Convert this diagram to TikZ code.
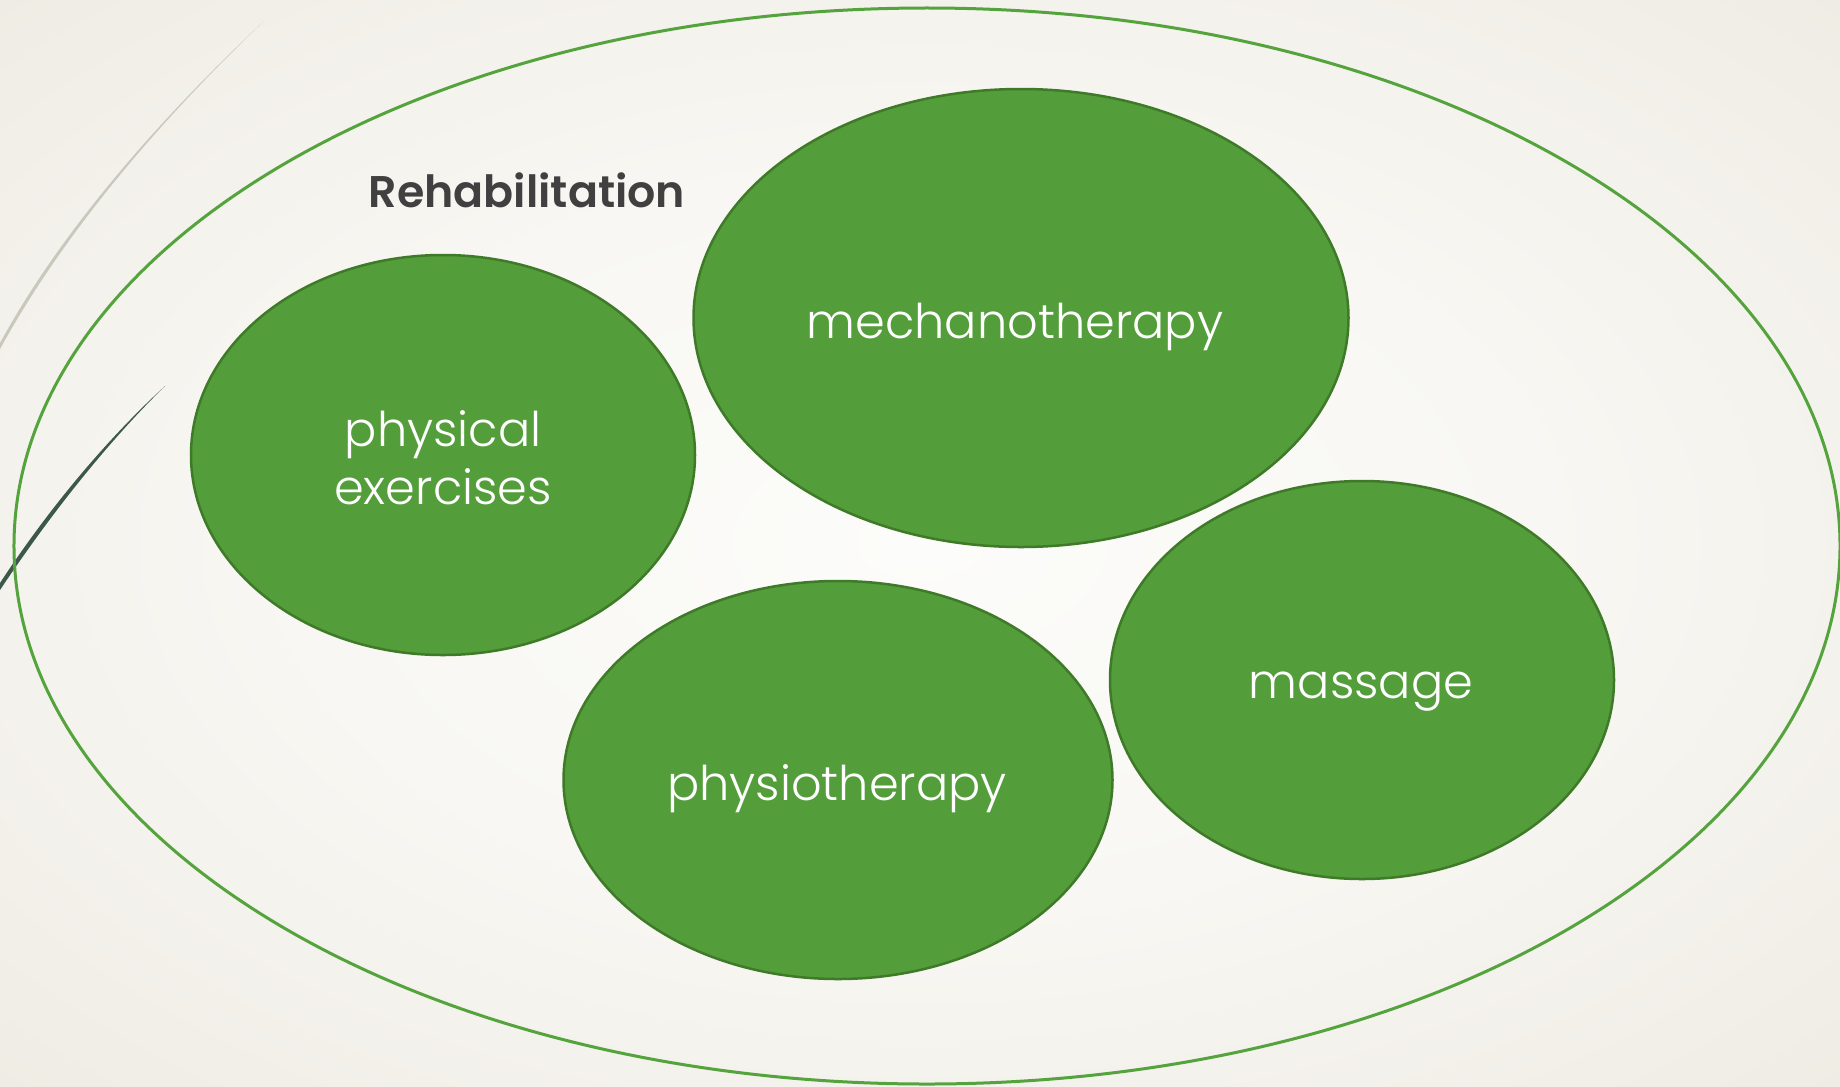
\documentclass[tikz,border=0pt]{standalone}
\usepackage{fontspec}
\setmainfont{Poppins}[UprightFont={* Light},BoldFont={* SemiBold}]
\usetikzlibrary{shapes.geometric}

\definecolor{leafgreen}{RGB}{83,158,58}
\definecolor{leafedge}{RGB}{62,122,40}
\definecolor{ringgreen}{RGB}{84,163,60}
\definecolor{titlegray}{RGB}{64,64,64}
\definecolor{bgin}{RGB}{252,252,250}
\definecolor{bgmidA}{RGB}{248,247,243}
\definecolor{bgmidB}{RGB}{236,232,223}
\definecolor{bgout}{RGB}{226,218,204}
\definecolor{strandgray}{RGB}{200,200,188}
\definecolor{stranddark}{RGB}{60,88,74}

% radial paper tone; TikZ maps 50bp onto the half-width of the shaded path
\pgfdeclareradialshading{paper}{\pgfpoint{0bp}{0bp}}{%
  color(0bp)=(bgin); color(12bp)=(bgmidA); color(30bp)=(bgmidB); color(50bp)=(bgout)}

\begin{document}
\begin{tikzpicture}[x=1bp,y=-1bp,
  leaf/.style={ellipse,draw=leafedge,line width=2.5bp,fill=leafgreen,inner sep=0pt},
  leaftext/.style={text=white,font=\fontsize{48}{56}\selectfont,anchor=base},
  titletext/.style={text=titlegray,font=\bfseries\fontsize{44.5}{54}\selectfont,anchor=base}]
\useasboundingbox (0,0) rectangle (1840,1086);

\begin{scope}
  \clip (0,0) rectangle (1840,1086);
  % paper background
  \shade[shading=paper] (-381,-225) rectangle (2221,1311);
  % decorative strands in the corner
  \fill[strandgray] (264,21) .. controls (150,130) and (60,240) .. (0,349)
    -- (0,343) .. controls (58,237) and (149,129) .. (264,21) -- cycle;
  \fill[stranddark] (165,386) .. controls (118,432) and (60,500) .. (0,590)
    -- (0,583) .. controls (57,496) and (117,430) .. (165,386) -- cycle;
  % outer ring
  \node[ellipse,draw=ringgreen,line width=3bp,minimum width=1826bp,
        minimum height=1076bp,inner sep=0pt] (ring) at (927,546) {};
\end{scope}

\node[titletext] (title) at (527,207) {Rehabilitation};

\node[leaf,minimum width=504bp,minimum height=400bp] (phys) at (443,455) {};
\node[leaf,minimum width=655bp,minimum height=458bp] (mech) at (1021,318) {};
\node[leaf,minimum width=504bp,minimum height=398bp] (mass) at (1362,680) {};
\node[leaf,minimum width=549bp,minimum height=398bp] (physio) at (838,780) {};

\node[leaftext] (physA) at (443,446) {physical};
\node[leaftext] (physB) at (443,504) {exercises};
\node[leaftext] (mechT) at (1015,338) {mechanotherapy};
\node[leaftext] (massT) at (1361,698) {massage};
\node[leaftext] (physioT) at (837,800) {physiotherapy};
\end{tikzpicture}
\end{document}
